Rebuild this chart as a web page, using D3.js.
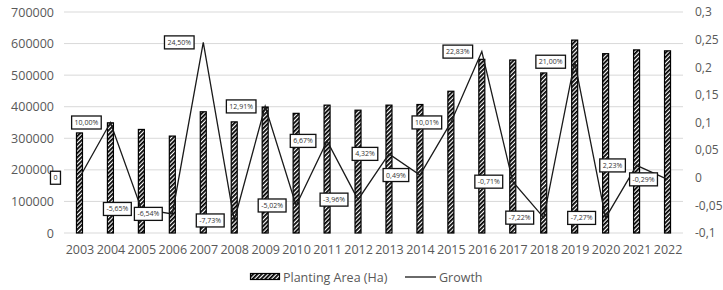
<!DOCTYPE html>
<html>
<head>
<meta charset="utf-8">
<script src="https://cdn.jsdelivr.net/npm/d3@7"></script>
<style>
  html, body { margin: 0; padding: 0; background: #fff; }
  svg { display: block; font-family: "Open Sans", "Noto Sans", sans-serif; }
</style>
</head>
<body>
<svg id="chart" width="723" height="290"></svg>
<script>
const years = ["2003","2004","2005","2006","2007","2008","2009","2010","2011","2012",
               "2013","2014","2015","2016","2017","2018","2019","2020","2021","2022"];
const plantingArea = [317000, 349000, 328000, 307000, 384000, 352000, 399000, 379000, 405000, 389000,
                      405000, 407000, 449000, 550000, 548000, 507000, 611000, 568000, 580000, 577000];
const growth = [0, 0.1000, -0.0565, -0.0654, 0.2450, -0.0773, 0.1291, -0.0502, 0.0667, -0.0396,
                0.0432, 0.0049, 0.1001, 0.2283, -0.0071, -0.0722, 0.2100, -0.0727, 0.0223, -0.0029];
const growthLabels = ["0","10,00%","-5,65%","-6,54%","24,50%","-7,73%","12,91%","-5,02%","6,67%","-3,96%",
                      "4,32%","0,49%","10,01%","22,83%","-0,71%","-7,22%","21,00%","-7,27%","2,23%","-0,29%"];
const leftTicks = [0, 100000, 200000, 300000, 400000, 500000, 600000, 700000];
const rightTicks = [-0.1, -0.05, 0, 0.05, 0.1, 0.15, 0.2, 0.25, 0.3];
const rightTickLabels = ["-0,1","-0,05","0","0,05","0,1","0,15","0,2","0,25","0,3"];
const seriesNames = ["Planting Area (Ha)", "Growth"];

const svg = d3.select("#chart");
const plot = { left: 64, right: 683, top: 12, bottom: 233 };
const gray = "#595959";

const defs = svg.append("defs");
const pat = defs.append("pattern").attr("id", "hatch").attr("patternUnits", "userSpaceOnUse")
  .attr("width", 3).attr("height", 3).attr("patternTransform", "rotate(45)");
pat.append("rect").attr("width", 3).attr("height", 3).attr("fill", "#fff");
pat.append("rect").attr("width", 1.8).attr("height", 3).attr("fill", "#000");

const x = d3.scalePoint().domain(years).range([plot.left, plot.right]).padding(0.5);
const yL = d3.scaleLinear().domain([0, 700000]).range([plot.bottom, plot.top]);
const yR = d3.scaleLinear().domain([-0.1, 0.3]).range([plot.bottom, plot.top]);

// gridlines
svg.append("g").selectAll("line").data(leftTicks).join("line")
  .attr("x1", plot.left).attr("x2", plot.right)
  .attr("y1", d => yL(d)).attr("y2", d => yL(d))
  .attr("stroke", "#d9d9d9").attr("stroke-width", 1);

// left axis
const axL = svg.append("g").attr("transform", `translate(${plot.left - 10},0)`)
  .call(d3.axisLeft(yL).tickValues(leftTicks).tickSize(0).tickPadding(0).tickFormat(d3.format("d")));
axL.select(".domain").remove();
axL.selectAll("text").attr("fill", gray).style("font-size", "12.5px").style("font-family", "'Open Sans', sans-serif");

// right axis
const axR = svg.append("g").attr("transform", `translate(${plot.right + 12},0)`)
  .call(d3.axisRight(yR).tickValues(rightTicks).tickSize(0).tickPadding(0)
    .tickFormat((d, i) => rightTickLabels[i]));
axR.select(".domain").remove();
axR.selectAll("text").attr("fill", gray).style("font-size", "12px").style("font-family", "'Open Sans', sans-serif");

// x axis
const axX = svg.append("g").attr("transform", `translate(0,${plot.bottom + 12})`)
  .call(d3.axisBottom(x).tickSize(0).tickPadding(0));
axX.select(".domain").remove();
axX.selectAll("text").attr("fill", gray).style("font-size", "12.5px").style("font-family", "'Open Sans', sans-serif");

// bars
const bw = 6;
svg.append("g").selectAll("rect").data(years).join("rect")
  .attr("x", d => x(d) - bw / 2)
  .attr("y", (d, i) => yL(plantingArea[i]))
  .attr("width", bw)
  .attr("height", (d, i) => yL(0) - yL(plantingArea[i]))
  .attr("fill", "url(#hatch)")
  .attr("stroke", "#000").attr("stroke-width", 1.2);

// growth line
const line = d3.line().x((d, i) => x(years[i])).y(d => yR(d));
svg.append("path").datum(growth).attr("d", line)
  .attr("fill", "none").attr("stroke", "#1a1a1a").attr("stroke-width", 1.3);

// data labels (placed left of point)
const lg = svg.append("g");
growth.forEach((v, i) => {
  const cx = x(years[i]) - 24, cy = yR(v);
  const g = lg.append("g");
  const t = g.append("text").attr("x", cx).attr("y", cy).attr("text-anchor", "middle")
    .attr("dominant-baseline", "central").style("font-size", "7px").attr("fill", "#333")
    .text(growthLabels[i]);
  const w = t.node().getComputedTextLength() + 6;
  g.insert("rect", "text").attr("x", cx - w / 2).attr("y", cy - 6.5).attr("width", w).attr("height", 13)
    .attr("fill", "#fff").attr("stroke", "#111").attr("stroke-width", 1.3);
});

// legend
const leg = svg.append("g");
leg.append("rect").attr("x", 250.5).attr("y", 273.5).attr("width", 29).attr("height", 6)
  .attr("fill", "url(#hatch)").attr("stroke", "#000").attr("stroke-width", 1.2);
leg.append("text").attr("x", 283).attr("y", 277).attr("dominant-baseline", "central")
  .attr("fill", gray).style("font-size", "12.5px").text(seriesNames[0]);
leg.append("line").attr("x1", 405).attr("x2", 436).attr("y1", 277).attr("y2", 277)
  .attr("stroke", "#1a1a1a").attr("stroke-width", 1.3);
leg.append("text").attr("x", 439).attr("y", 277).attr("dominant-baseline", "central")
  .attr("fill", gray).style("font-size", "12.5px").text(seriesNames[1]);
</script>
</body>
</html>
